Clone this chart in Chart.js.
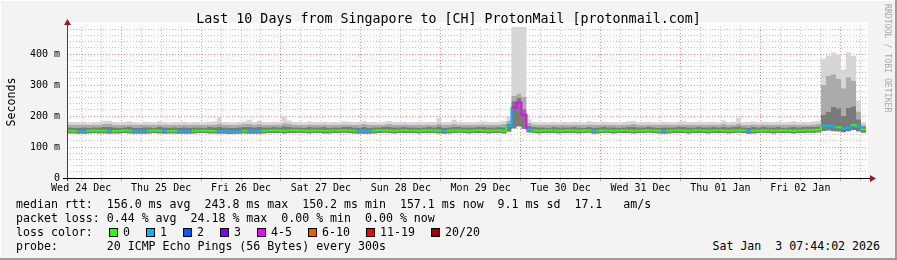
<!DOCTYPE html>
<html lang="en">
<head>
<meta charset="UTF-8">
<title>Last 10 Days from Singapore to [CH] ProtonMail</title>
<script src="https://cdn.jsdelivr.net/npm/chart.js"></script>
<style>
  body { margin: 0; background: #f3f3f3; }
  .frame {
    position: relative; width: 897px; height: 260px; background: #f3f3f3;
    box-shadow: inset -2px -2px 0 #9c9c9c, inset 1px 1px 0 #ffffff;
    font-family: 'DejaVu Sans Mono', monospace; color: #000; overflow: hidden;
  }
  #chart { position: absolute; left: 0; top: 0; }
  .title { position: absolute; left: 0; width: 897px; top: 11px; text-align: center; font-size: 13.3px; line-height: 16px; }
  .ylabel { position: absolute; left: -19px; top: 95px; width: 60px; text-align: center; font-size: 11.6px; line-height: 14px; transform: rotate(-90deg); }
  .credit { position: absolute; left: 883px; top: 4px; font-size: 8.2px; color: #a8a8a8; writing-mode: vertical-rl; }
  .line { position: absolute; left: 16px; font-size: 11.6px; line-height: 14px; white-space: pre; }
  .stamp { position: absolute; right: 17px; top: 239px; font-size: 11.6px; line-height: 14px; white-space: pre; }
  .box { position: absolute; width: 7px; height: 7px; border: 1px solid #000; top: 228px; }
</style>
</head>
<body>
<div class="frame">
  <canvas id="chart" width="897" height="200"></canvas>
  <div class="title">Last 10 Days from Singapore to [CH] ProtonMail [protonmail.com]</div>
  <div class="ylabel">Seconds</div>
  <div class="credit">RRDTOOL / TOBI OETIKER</div>
  <div class="line" style="top:197px">median rtt:  156.0 ms avg  243.8 ms max  150.2 ms min  157.1 ms now  9.1 ms sd  17.1   am/s</div>
  <div class="line" style="top:211px">packet loss: 0.44 % avg  24.18 % max  0.00 % min  0.00 % now</div>
  <div class="line" style="top:225px" id="lossLine">loss color:</div>
  <div class="line" style="top:239px">probe:       20 ICMP Echo Pings (56 Bytes) every 300s</div>
  <div class="stamp">Sat Jan  3 07:44:02 2026</div>
</div>

<script>
// time axis: hours since Wed 24 Dec 00:00, one sample every 1.5 h
const startHour = 7 + 44 / 60;
const stepHours = 1.5;
const spanHours = 240;
const dayLabels = ['Wed 24 Dec', 'Thu 25 Dec', 'Fri 26 Dec', 'Sat 27 Dec', 'Sun 28 Dec',
                   'Mon 29 Dec', 'Tue 30 Dec', 'Wed 31 Dec', 'Thu 01 Jan', 'Fri 02 Jan'];
const yMax = 487.6;

// median rtt (ms)
const medianRtt = [
  152.4,152.0,151.2,151.0,152.6,153.1,152.8,152.3,151.3,152.1, 152.7,153.0,152.2,151.1,150.9,151.2,152.5,153.2,152.8,151.4,
  152.1,152.9,151.0,150.8,151.1,152.4,152.9,153.3,152.6,152.0, 151.2,150.9,150.2,151.0,151.3,152.5,151.2,151.0,151.4,152.8,
  153.4,154.0,153.6,152.9,153.2,153.8,154.1,153.5,152.7,153.0, 153.6,152.8,152.4,153.1,153.7,154.2,153.4,152.9,151.6,151.2,
  151.5,152.8,153.9,154.3,153.1,152.6,153.3,154.0,153.6,153.0, 152.5,153.2,153.8,153.4,152.7,151.5,152.9,153.6,154.0,153.3,
  152.8,153.5,153.9,153.1,152.6,153.4,153.0,152.6,168.0,228.0, 243.8,204.0,156.5,153.2,152.6,153.4,153.9,153.1,152.7,153.5,
  153.8,153.2,152.9,153.6,154.0,151.4,152.8,153.5,153.1,152.6, 153.3,153.9,153.4,152.8,153.2,153.7,154.1,153.3,152.9,151.6,
  152.7,153.4,153.8,153.1,152.5,153.2,153.9,153.6,152.8,153.4, 153.9,153.2,152.7,153.5,154.0,153.1,151.5,152.8,153.6,154.0,
  153.3,152.7,153.4,153.9,153.2,152.6,153.3,153.8,154.2,155.0, 156.2,168.0,168.5,166.0,163.5,160.0,162.5,171.5,165.5,157.1
];

// lost pings out of 20 per sample
const lossCount = [
  0,0,1,1,0,0,0,0,1,0, 0,0,0,1,1,1,0,0,0,1,
  0,0,1,1,1,0,0,0,0,0, 1,1,1,1,1,0,1,1,1,0,
  0,0,0,0,0,0,0,0,0,0, 0,0,0,0,0,0,0,0,1,1,
  1,0,0,0,0,0,0,0,0,0, 0,0,0,0,0,1,0,0,0,0,
  0,0,0,0,0,0,0,0,1,4, 5,4,1,0,0,0,0,0,0,0,
  0,0,0,0,0,1,0,0,0,0, 0,0,0,0,0,0,0,0,0,1,
  0,0,0,0,0,0,0,0,0,0, 0,0,0,0,0,0,1,0,0,0,
  0,0,0,0,0,0,0,0,0,0, 0,1,1,1,0,1,1,0,1,0
];

// smoke: lowest ping, top of dark band, top of mid band, highest ping (ms)
const smokeMin = [
  144,144,143,143,144,145,144,144,143,144, 144,145,144,143,143,143,144,145,144,143,
  144,144,143,143,143,144,145,145,144,144, 143,143,142,143,143,144,143,143,143,144,
  145,145,145,144,145,145,146,145,144,145, 145,144,144,145,145,146,145,144,143,143,
  143,144,145,146,145,144,145,145,145,145, 144,145,145,145,144,143,144,145,146,145,
  144,145,145,145,144,145,145,144,149,160, 166,158,147,145,144,145,145,145,144,145,
  145,145,144,145,146,143,144,145,145,144, 145,145,145,144,145,145,146,145,144,143,
  144,145,145,145,144,145,145,145,144,145, 145,145,144,145,146,145,143,144,145,146,
  145,144,145,145,145,144,145,145,146,146, 147,152,153,151,150,148,151,155,150,146
];
const smokeLow = [
  164,163,163,164,163,164,164,165,165,164, 163,164,165,163,163,164,164,163,165,164,
  163,164,163,164,163,164,164,163,165,164, 166,164,163,163,164,165,165,164,165,164,
  164,165,164,167,166,164,164,163,165,164, 164,165,163,164,164,165,165,164,163,165,
  163,164,164,165,166,164,164,165,164,164, 163,164,165,164,167,163,164,166,165,164,
  164,164,165,165,164,164,165,164,176,248, 258,222,168,165,164,164,163,165,164,164,
  164,165,164,163,165,163,164,165,164,164, 163,164,165,166,164,164,165,164,163,164,
  164,164,165,165,164,164,165,164,164,165, 164,166,164,165,167,164,163,165,164,165,
  164,164,165,163,164,165,164,165,165,166, 167,205,215,230,225,200,228,232,190,165
];
const smokeMid = [
  172,171,172,173,171,172,172,174,175,172, 171,172,173,172,171,173,172,171,173,172,
  171,172,172,173,171,172,172,171,173,173, 176,172,172,171,173,174,175,172,174,172,
  172,173,172,177,175,172,172,171,173,172, 172,173,171,172,172,173,173,172,172,174,
  172,172,171,173,174,172,172,173,171,172, 172,172,173,172,176,172,172,175,173,172,
  172,172,173,173,172,172,173,174,185,265, 272,262,178,173,172,172,171,173,172,172,
  172,173,172,171,173,172,172,173,172,172, 171,172,173,174,172,172,173,172,171,173,
  172,172,173,173,172,172,173,172,172,173, 172,175,172,173,176,172,172,173,172,173,
  172,172,173,171,172,173,172,173,172,173, 174,300,330,335,320,290,325,315,215,172
];
const smokeMax = [
  181,179,180,182,178,180,181,184,185,180, 179,181,183,180,178,182,181,179,183,180,
  179,181,180,182,178,181,180,179,182,183, 196,181,180,179,182,183,188,180,184,181,
  180,182,181,199,186,181,180,179,183,181, 180,182,179,181,180,183,182,180,181,184,
  180,181,179,182,184,180,181,182,179,180, 181,180,182,181,194,180,181,188,182,180,
  181,180,182,183,180,181,182,184,200,600, 600,600,190,182,180,181,179,182,180,181,
  180,182,181,179,183,181,180,182,181,180, 179,181,183,185,180,181,182,180,179,182,
  181,180,182,183,180,181,182,180,181,182, 180,186,181,182,194,180,181,183,180,182,
  181,180,182,179,181,183,180,182,181,183, 185,385,395,405,400,350,405,395,250,180
];

const lossLabels = ['0', '1', '2', '3', '4-5', '6-10', '11-19', '20/20'];
const lossColors = ['#26ff00', '#00b8ff', '#0059ff', '#7e00ff', '#f000ff', '#ff5500', '#ff0000', '#a10000'];

function lossColor(n) {
  if (n <= 3) return lossColors[n];
  if (n <= 5) return lossColors[4];
  if (n <= 10) return lossColors[5];
  if (n <= 19) return lossColors[6];
  return lossColors[7];
}

function toPoints(values) {
  const pts = values.map((v, i) => ({ x: startHour + i * stepHours, y: v }));
  // hold the last sample up to the right edge
  pts.push({ x: startHour + spanHours, y: values[values.length - 1] });
  return pts;
}

// legend boxes for the loss colours
const frame = document.querySelector('.frame');
let bx = 109;
lossLabels.forEach((lab, k) => {
  const box = document.createElement('div');
  box.className = 'box';
  box.style.left = bx + 'px';
  box.style.background = lossColors[k];
  frame.appendChild(box);
  const t = document.createElement('div');
  t.className = 'line';
  t.style.top = '225px';
  t.style.left = (bx + 14) + 'px';
  t.textContent = lab;
  frame.appendChild(t);
  bx += 14 + lab.length * 7 + 16;
});

const band = (data, color) => ({
  data: toPoints(data), stepped: true, pointRadius: 0, borderWidth: 0,
  fill: '-1', backgroundColor: color, order: 2
});

const plotBack = {
  id: 'plotBack',
  beforeDraw(chart) {
    const { ctx, chartArea: a } = chart;
    ctx.save();
    ctx.fillStyle = '#ffffff';
    ctx.fillRect(a.left, a.top - 5, a.right - a.left + 2, a.bottom - a.top + 5);
    ctx.restore();
  },
  afterDraw(chart) {
    const { ctx, chartArea: a } = chart;
    ctx.save();
    ctx.lineWidth = 1;
    ctx.strokeStyle = '#404040';
    ctx.beginPath();
    ctx.moveTo(a.left + 0.5, a.bottom + 3);
    ctx.lineTo(a.left + 0.5, a.top - 5);
    ctx.stroke();
    ctx.strokeStyle = '#000000';
    ctx.beginPath();
    ctx.moveTo(a.left - 4, a.bottom + 0.5);
    ctx.lineTo(a.right + 4, a.bottom + 0.5);
    ctx.stroke();
    ctx.fillStyle = '#9b1b1b';
    ctx.beginPath();
    ctx.moveTo(a.left + 0.5, a.top - 8);
    ctx.lineTo(a.left - 3, a.top - 2);
    ctx.lineTo(a.left + 4, a.top - 2);
    ctx.fill();
    ctx.beginPath();
    ctx.moveTo(a.right + 10, a.bottom + 0.5);
    ctx.lineTo(a.right + 4, a.bottom - 3);
    ctx.lineTo(a.right + 4, a.bottom + 4);
    ctx.fill();
    ctx.restore();
  }
};

const tickFont = { family: 'DejaVu Sans Mono', size: 10 };

new Chart(document.getElementById('chart'), {
  type: 'line',
  data: {
    datasets: [
      { data: toPoints(smokeMin), stepped: true, pointRadius: 0, borderWidth: 0, fill: false, order: 2 },
      band(smokeLow, '#7a7a7a'),
      band(smokeMid, '#ababab'),
      band(smokeMax, '#d6d6d6'),
      {
        data: toPoints(medianRtt), stepped: true, pointRadius: 0, borderWidth: 2, fill: false, order: 0,
        borderColor: lossColors[0],
        segment: { borderColor: c => lossColor(lossCount[Math.min(c.p0DataIndex, lossCount.length - 1)]) }
      }
    ]
  },
  options: {
    responsive: false,
    animation: false,
    layout: { padding: { top: 27, right: 31, bottom: 6, left: 0 } },
    plugins: { legend: { display: false }, tooltip: { enabled: false } },
    scales: {
      x: {
        type: 'linear', min: startHour, max: startHour + spanHours, z: 1,
        afterBuildTicks: s => {
          const t = [];
          for (let h = 12; h < startHour + spanHours; h += 6) t.push({ value: h });
          s.ticks = t;
        },
        afterFit: s => { s.height = 16; },
        grid: {
          color: c => (c.tick && c.tick.value % 24 === 0) ? 'rgba(255,0,0,0.45)' : 'rgba(0,0,0,0.22)',
          tickLength: 3
        },
        border: { display: false, dash: [1, 2] },
        ticks: {
          autoSkip: false, maxRotation: 0, padding: 1, color: '#000', font: tickFont,
          callback: v => (v % 24 === 12) ? dayLabels[(v - 12) / 24] : ''
        }
      },
      y: {
        min: 0, max: yMax, z: 1,
        afterBuildTicks: s => {
          const t = [];
          for (let v = 0; v <= yMax; v += 20) t.push({ value: v });
          s.ticks = t;
        },
        afterFit: s => { s.width = 67; },
        grid: {
          color: c => (c.tick && c.tick.value % 100 === 0) ? 'rgba(255,0,0,0.45)' : 'rgba(0,0,0,0.22)',
          drawTicks: false
        },
        border: { display: false, dash: [1, 2] },
        ticks: {
          autoSkip: false, padding: 7, color: '#000', font: tickFont,
          callback: v => (v % 100 === 0) ? (v === 0 ? '0' : v + ' m') : ''
        }
      }
    }
  },
  plugins: [plotBack]
});
</script>
</body>
</html>
